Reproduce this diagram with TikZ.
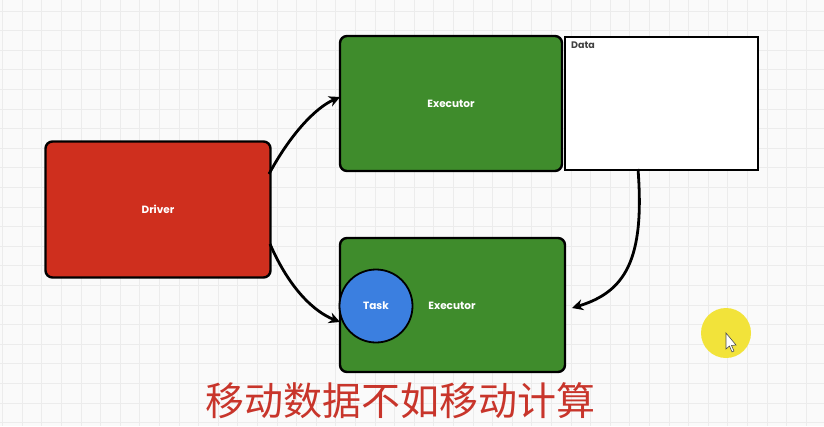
\documentclass[tikz,border=0pt]{standalone}
\usepackage{fontspec}
\setmainfont{Poppins}
\newfontfamily\cjk{Noto Sans CJK SC}
\usetikzlibrary{arrows.meta}
\definecolor{bgc}{HTML}{FAFAFA}
\definecolor{gridc}{HTML}{ECECEC}
\definecolor{redc}{HTML}{CF2F1E}
\definecolor{greenc}{HTML}{3F8C2C}
\definecolor{bluec}{HTML}{3B7FE0}
\definecolor{titlec}{HTML}{C8352B}
\definecolor{yelc}{HTML}{F2E33A}
\tikzset{
  box/.style={draw=black, line width=2.4pt, rounded corners=7pt, inner sep=0pt},
  lbl/.style={text=white, font=\bfseries\fontsize{10.5}{12}\selectfont},
  conn/.style={line width=2.8pt, -{Stealth[length=11pt,width=11pt]}},
}
\begin{document}
\begin{tikzpicture}[x=1pt,y=-1pt]
\useasboundingbox (0,0) rectangle (824,426);
\fill[bgc] (0,0) rectangle (824,426);
\foreach \i in {0,...,42} {\draw[gridc, line width=0.8pt] (2.5+19.6*\i,0) -- (2.5+19.6*\i,426);}
\foreach \j in {0,...,22} {\draw[gridc, line width=0.8pt] (0,11+19.6*\j) -- (824,11+19.6*\j);}
% boxes
\node[box, fill=redc, minimum width=225pt, minimum height=136pt] (driver) at (158,209.5) {};
\node[lbl] (driverl) at (driver.center) {Driver};
\node[box, fill=greenc, minimum width=222pt, minimum height=135pt] (exec1) at (451,103.5) {};
\node[lbl] (exec1l) at (exec1.center) {Executor};
\node[draw=black, line width=2pt, fill=white, minimum width=193pt, minimum height=133pt, inner sep=0pt] (data) at (661,103.5) {};
\node[anchor=north west, inner sep=0pt, text=black!75, font=\bfseries\fontsize{9.5}{11}\selectfont] (datal) at (571,42) {Data};
\node[box, fill=greenc, minimum width=225pt, minimum height=134pt] (exec2) at (452.5,305) {};
\node[draw=black, line width=1.8pt, fill=bluec, circle, minimum size=73pt, inner sep=0pt] (task) at (376,306) {};
\node[lbl] (taskl) at (task.center) {Task};
\node[lbl] (exec2l) at (452,306) {Executor};
% connectors
\coordinate (a1) at (269,174);
\coordinate (a2) at (270,244);
\coordinate (a3) at (638,169);
\coordinate (t1) at (340,97);
\coordinate (t2) at (340,322);
\coordinate (t3) at (572,308);
\draw[conn] (a1) .. controls (290,135) and (315,108) .. (t1);
\draw[conn] (a2) .. controls (290,290) and (315,312) .. (t2);
\draw[conn] (a3) .. controls (645,260) and (625,292) .. (t3);
% title
\node[text=titlec, font=\cjk\fontsize{39}{42}\selectfont, inner sep=0pt] (title) at (400,401) {移动数据不如移动计算};
% pointer highlight
\fill[yelc] (726,333) circle (25);
\filldraw[fill=white, draw=black!70, line width=0.6pt] (726,333) -- (726,349) -- (729.5,346) -- (732,352) -- (734,351) -- (731.5,345.5) -- (736,345) -- cycle;
\end{tikzpicture}
\end{document}
